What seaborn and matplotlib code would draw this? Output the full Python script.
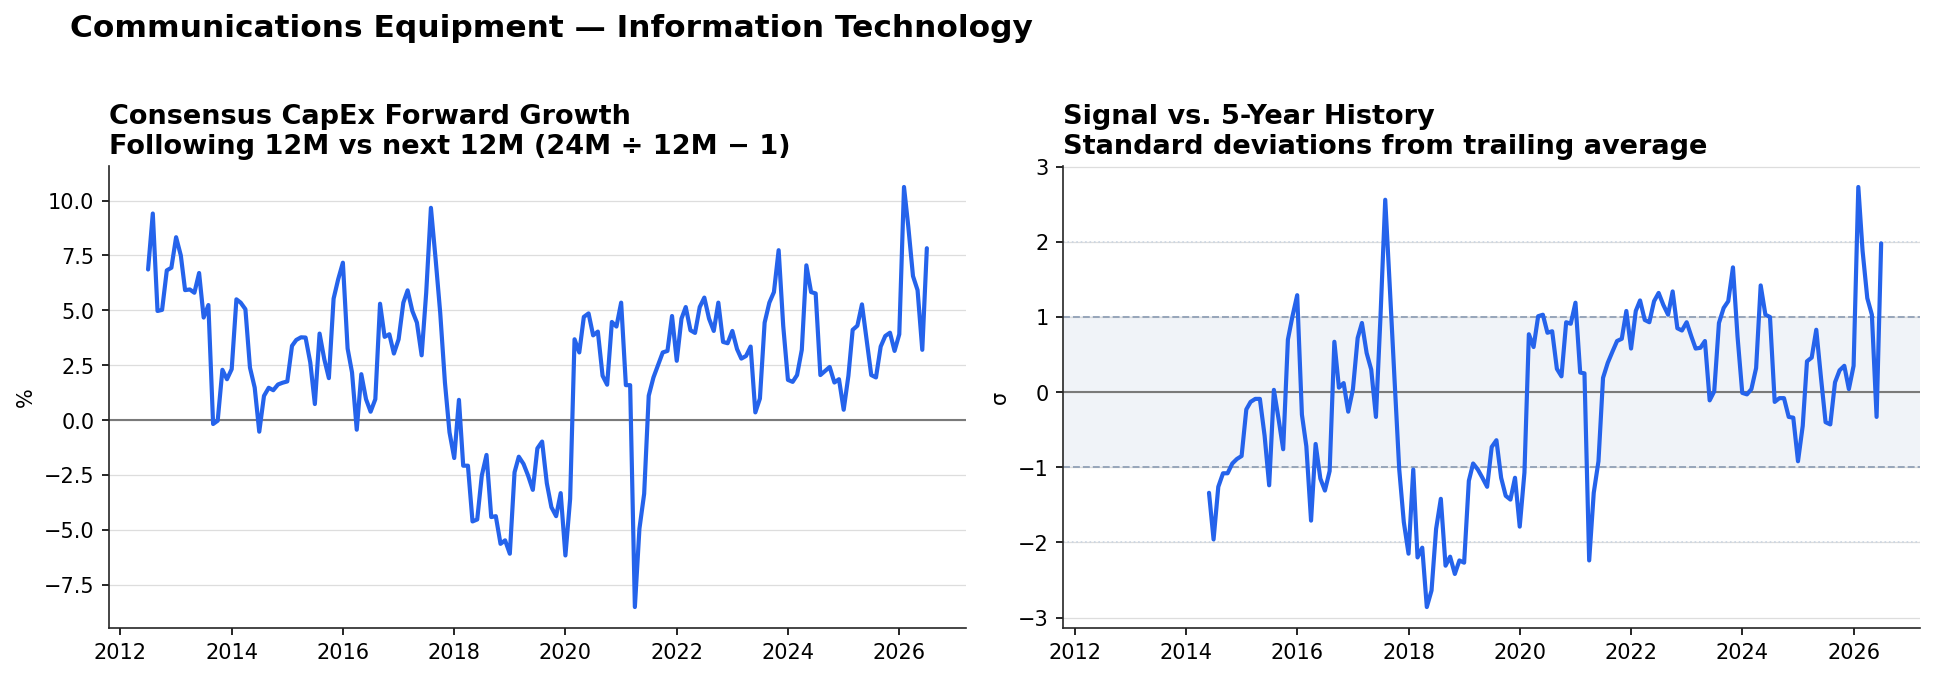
import pandas as pd
import matplotlib
matplotlib.use('Agg')
import matplotlib.pyplot as plt
import matplotlib.dates as mdates
import seaborn as sns

# 数据 (monthly)
growth_start = '2012-07-01'
growth_values = [
    6.86, 9.41, 4.97, 5.02, 6.82, 6.94,
    8.33, 7.5, 5.92, 5.95, 5.8, 6.7, 4.67, 5.24, -0.18, -0.03, 2.29, 1.86,
    2.32, 5.5, 5.35, 5.05, 2.39, 1.48, -0.53, 1.1, 1.47, 1.36, 1.62, 1.7,
    1.76, 3.38, 3.65, 3.77, 3.76, 2.62, 0.73, 3.94, 2.77, 1.91, 5.53, 6.41,
    7.17, 3.26, 2.17, -0.44, 2.09, 0.95, 0.38, 0.95, 5.3, 3.79, 3.91, 3.03,
    3.68, 5.35, 5.91, 4.97, 4.44, 2.95, 5.8, 9.67, 7.32, 4.89, 1.71, -0.56,
    -1.73, 0.92, -2.08, -2.08, -4.62, -4.53, -2.53, -1.59, -4.42, -4.38, -5.64, -5.48,
    -6.09, -2.38, -1.67, -2.0, -2.53, -3.18, -1.29, -0.98, -2.88, -3.97, -4.38, -3.33,
    -6.17, -3.59, 3.68, 3.08, 4.7, 4.86, 3.86, 4.03, 2.02, 1.61, 4.47, 4.26,
    5.35, 1.59, 1.59, -8.52, -4.95, -3.36, 1.11, 1.94, 2.52, 3.08, 3.15, 4.74,
    2.7, 4.62, 5.15, 4.09, 3.97, 5.15, 5.58, 4.62, 4.06, 5.35, 3.56, 3.5,
    4.06, 3.23, 2.8, 2.92, 3.35, 0.35, 0.98, 4.44, 5.35, 5.83, 7.74, 4.29,
    1.83, 1.74, 2.05, 3.2, 7.05, 5.83, 5.77, 2.05, 2.24, 2.42, 1.71, 1.86,
    0.47, 2.02, 4.11, 4.3, 5.27, 3.64, 2.05, 1.94, 3.35, 3.83, 3.98, 3.15,
    3.91, 10.62, 8.83, 6.56, 5.92, 3.2, 7.83,
]

zscore_start = '2014-06-01'
zscore_values = [
    -1.34, -1.96, -1.26, -1.08, -1.08, -0.95, -0.89,
    -0.85, -0.23, -0.13, -0.09, -0.09, -0.58, -1.24, 0.03, -0.36, -0.76, 0.70, 1.01,
    1.29, -0.30, -0.72, -1.71, -0.69, -1.15, -1.31, -1.05, 0.67, 0.06, 0.12, -0.26,
    0.04, 0.72, 0.92, 0.52, 0.30, -0.33, 1.01, 2.56, 1.36, 0.17, -1.03, -1.73,
    -2.15, -1.03, -2.20, -2.07, -2.86, -2.64, -1.82, -1.42, -2.31, -2.19, -2.42, -2.24,
    -2.27, -1.18, -0.95, -1.03, -1.14, -1.26, -0.73, -0.64, -1.14, -1.38, -1.43, -1.14,
    -1.79, -1.07, 0.77, 0.60, 1.01, 1.03, 0.79, 0.81, 0.31, 0.21, 0.93, 0.91,
    1.19, 0.26, 0.25, -2.24, -1.34, -0.92, 0.19, 0.39, 0.54, 0.68, 0.71, 1.08,
    0.58, 1.08, 1.22, 0.96, 0.93, 1.21, 1.32, 1.16, 1.03, 1.34, 0.85, 0.82,
    0.93, 0.74, 0.58, 0.59, 0.68, -0.11, 0.01, 0.92, 1.12, 1.21, 1.66, 0.74,
    -0.01, -0.03, 0.04, 0.32, 1.42, 1.03, 1.00, -0.13, -0.08, -0.08, -0.33, -0.34,
    -0.92, -0.45, 0.41, 0.46, 0.83, 0.19, -0.40, -0.43, 0.13, 0.29, 0.35, 0.04,
    0.35, 2.73, 1.88, 1.25, 1.03, -0.33, 1.98,
]

band_low, band_high = -1, 1
guide_levels = [-2, 2]

LINE_COLOR = '#2563eb'

sns.set_style('ticks')
plt.rcParams['font.family'] = ['DejaVu Sans']
plt.rcParams['font.size'] = 10
plt.rcParams['text.color'] = 'black'
plt.rcParams['axes.labelcolor'] = 'black'
plt.rcParams['xtick.color'] = 'black'
plt.rcParams['ytick.color'] = 'black'

growth_df = pd.DataFrame({
    'date': pd.date_range(growth_start, periods=len(growth_values), freq='MS'),
    'value': growth_values,
})
zscore_df = pd.DataFrame({
    'date': pd.date_range(zscore_start, periods=len(zscore_values), freq='MS'),
    'value': zscore_values,
})

fig, axes = plt.subplots(1, 2, figsize=(12.9, 4.53), dpi=150, sharex=True)
fig.subplots_adjust(left=0.0564, right=0.9923, bottom=0.075, top=0.755, wspace=0.114)

fig.text(0.036, 0.9455, 'Communications Equipment \u2014 Information Technology',
         fontsize=15, fontweight='bold', ha='left', va='baseline')

# 1. CapEx forward growth
ax1 = axes[0]
ax1.grid(True, axis='y', color='#dddddd', linewidth=0.6)
ax1.axhline(0, color='#7a7a7a', linewidth=1.0, zorder=1)
sns.lineplot(data=growth_df, x='date', y='value', ax=ax1, color=LINE_COLOR,
             linewidth=2.0, zorder=3)
ax1.set_title('Consensus CapEx Forward Growth\nFollowing 12M vs next 12M (24M \u00f7 12M \u2212 1)',
              loc='left', fontsize=13, fontweight='bold')
ax1.set_ylabel('%')
ax1.set_xlabel('')

# 2. z-score vs 5-year history
ax2 = axes[1]
ax2.grid(True, axis='y', color='#dddddd', linewidth=0.6)
ax2.axhspan(band_low, band_high, color='#f0f3f8', zorder=0)
for lvl in (band_low, band_high):
    ax2.axhline(lvl, color='#94a3b8', linewidth=0.9, linestyle='--', zorder=1)
for lvl in guide_levels:
    ax2.axhline(lvl, color='#cbd5e1', linewidth=0.8, linestyle=':', zorder=1)
ax2.axhline(0, color='#7a7a7a', linewidth=1.0, zorder=1)
sns.lineplot(data=zscore_df, x='date', y='value', ax=ax2, color=LINE_COLOR,
             linewidth=2.0, zorder=3)
ax2.set_title('Signal vs. 5-Year History\nStandard deviations from trailing average',
              loc='left', fontsize=13, fontweight='bold')
ax2.set_ylabel('\u03c3')
ax2.set_xlabel('')

for ax in axes:
    ax.xaxis.set_major_locator(mdates.YearLocator(2))
    ax.xaxis.set_major_formatter(mdates.DateFormatter('%Y'))
    ax.tick_params(labelsize=10)
    ax.tick_params(axis='x', labelbottom=True)
    sns.despine(ax=ax)

plt.savefig('out.png', dpi=150)
plt.close()
